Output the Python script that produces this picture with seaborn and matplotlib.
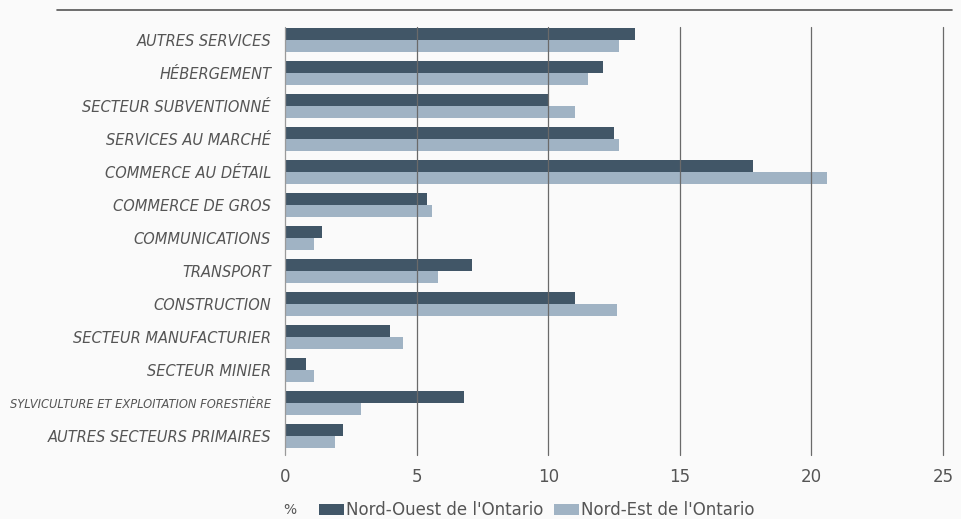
import matplotlib
matplotlib.use("Agg")
import matplotlib.pyplot as plt
from matplotlib.lines import Line2D
import seaborn as sns
import pandas as pd

categories = [
    "AUTRES SERVICES",
    "HÉBERGEMENT",
    "SECTEUR SUBVENTIONNÉ",
    "SERVICES AU MARCHÉ",
    "COMMERCE AU DÉTAIL",
    "COMMERCE DE GROS",
    "COMMUNICATIONS",
    "TRANSPORT",
    "CONSTRUCTION",
    "SECTEUR MANUFACTURIER",
    "SECTEUR MINIER",
    "SYLVICULTURE ET EXPLOITATION FORESTIÈRE",
    "AUTRES SECTEURS PRIMAIRES",
]
series_names = ["Nord-Ouest de l'Ontario", "Nord-Est de l'Ontario"]
nord_ouest = [13.3, 12.1, 10.0, 12.5, 17.8, 5.4, 1.4, 7.1, 11.0, 4.0, 0.8, 6.8, 2.2]
nord_est = [12.7, 11.5, 11.0, 12.7, 20.6, 5.6, 1.1, 5.8, 12.6, 4.5, 1.1, 2.9, 1.9]
x_ticks = [0, 5, 10, 15, 20, 25]

df = pd.DataFrame({
    "secteur": categories * 2,
    "region": [series_names[0]] * len(categories) + [series_names[1]] * len(categories),
    "valeur": nord_ouest + nord_est,
})

sns.set_theme(style="white")
plt.rcParams["font.family"] = ["DejaVu Sans"]

bg = "#fafafa"
text_col = "#555555"
fig = plt.figure(figsize=(9.61, 5.19), dpi=100, facecolor=bg)
ax = fig.add_axes([285 / 961, 1 - 455 / 519, (943 - 285) / 961, (455 - 27) / 519])
ax.set_facecolor(bg)

sns.barplot(
    data=df, y="secteur", x="valeur", hue="region", order=categories,
    hue_order=series_names, palette=["#415667", "#a0b3c4"],
    orient="h", width=0.72, saturation=1, ax=ax, legend=True, linewidth=0,
)

ax.set_xlim(0, 25)
ax.set_ylim(12.58, -0.39)
ax.set_xticks(x_ticks)
ax.set_xticklabels([str(t) for t in x_ticks])
for t in x_ticks:
    ax.axvline(t, color="#6a6a6a" if t else "#9a9a9a", lw=0.9, zorder=3,
               clip_on=False)
for s in ax.spines.values():
    s.set_visible(False)
ax.tick_params(axis="both", length=0)
ax.tick_params(axis="x", pad=9, labelsize=12, labelcolor=text_col)
ax.tick_params(axis="y", pad=10, labelsize=10.5, labelcolor=text_col)
ax.set_xlabel("")
ax.set_ylabel("")
for lab in ax.get_yticklabels():
    lab.set_fontstyle("italic")
    if lab.get_text().startswith("SYLVICULTURE"):
        lab.set_fontsize(8.3)

handles, labels = ax.get_legend_handles_labels()
ax.get_legend().remove()
fig.legend(
    handles, labels, loc="center left", bbox_to_anchor=(319 / 961, 1 - 510 / 519),
    ncol=2, frameon=False, fontsize=12, labelcolor=text_col,
    handlelength=1.5, handleheight=0.65, handletextpad=0.15, columnspacing=0.6,
    borderpad=0, borderaxespad=0,
)
fig.text(283 / 961, 1 - 510 / 519, "%", color=text_col, fontsize=10,
         ha="left", va="center")

fig.add_artist(Line2D([57 / 961, 952 / 961], [1 - 10 / 519, 1 - 10 / 519],
                      color="#555555", lw=1.2))

fig.savefig("out.png", dpi=100, facecolor=bg)
